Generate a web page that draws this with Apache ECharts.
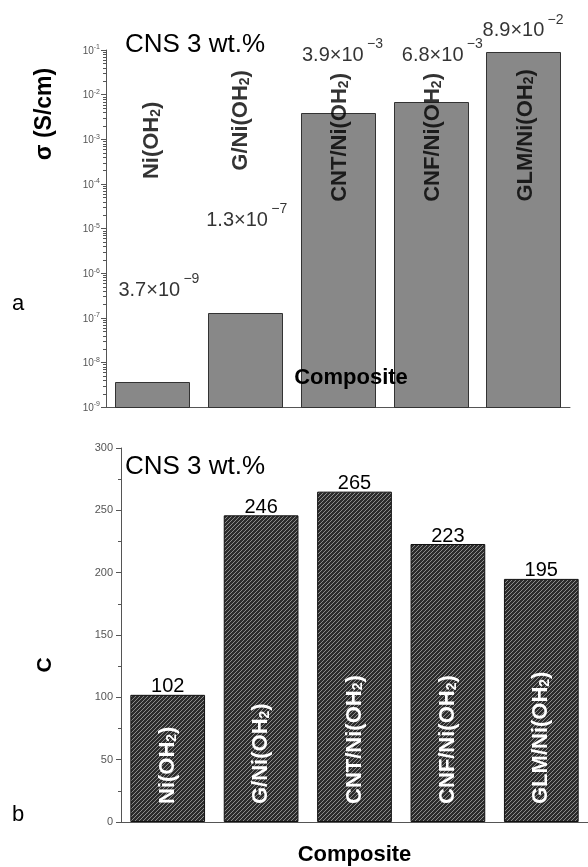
<!DOCTYPE html>
<html><head><meta charset="utf-8">
<script src="https://cdn.jsdelivr.net/npm/echarts@6/dist/echarts.min.js"></script>
<style>html,body{margin:0;padding:0;background:#fff}#c{width:588px;height:867px}</style>
</head><body><div id="c"></div>
<script>
// ---------- data ----------
const categories = ['Ni(OH2)', 'G/Ni(OH2)', 'CNT/Ni(OH2)', 'CNF/Ni(OH2)', 'GLM/Ni(OH2)'];
const conductivity = [3.7e-9, 1.3e-7, 3.9e-3, 6.8e-3, 8.9e-2];   // σ (S/cm)
const capacitance = [102, 246, 265, 223, 195];                  // C
const capTicks = [0, 50, 100, 150, 200, 250, 300];
const sigmaMinExp = -9, sigmaMaxExp = -1;

// ---------- styling config (not data) ----------
const FONT = '"Liberation Sans", Arial, Helvetica, sans-serif';
const sigmaLabelOffsets = [[-34, -81], [-39, -82], [-36, -47], [-29, -36], [-41, -11]];
const supShift = [65, -14];
const topNameCenterY = 1.1e-3;           // anchor on log axis for rotated names
const topNameOffsets = [[-3, 0], [17, -4], [0, 2], [0, 2], [2, 2]];  // rotated frame

function richName(n) { return n.replace('OH2)', 'OH{sub|2})'); }
function sciParts(v) {
  const e = Math.floor(Math.log10(v) + 1e-9);
  const m = (v / Math.pow(10, e)).toFixed(1);
  return [m, e];
}

// hatch pattern for bottom bars
const pc = document.createElement('canvas');
pc.width = 4; pc.height = 4;
const pctx = pc.getContext('2d');
pctx.fillStyle = '#2c2c2c'; pctx.fillRect(0, 0, 4, 4);
pctx.strokeStyle = '#8c8c8c'; pctx.lineWidth = 1;
pctx.beginPath();
pctx.moveTo(-1, 5); pctx.lineTo(5, -1);
pctx.moveTo(-1, 1); pctx.lineTo(1, -1);
pctx.moveTo(3, 5); pctx.lineTo(5, 3);
pctx.stroke();

const minorTickData = [];
for (let e = sigmaMinExp; e < sigmaMaxExp; e++) {
  for (let k = 2; k <= 9; k++) minorTickData.push([0, k * Math.pow(10, e)]);
}

const chart = echarts.init(document.getElementById('c'));
const option = {
  animation: false,
  backgroundColor: '#fff',
  textStyle: { fontFamily: FONT },
  grid: [
    { left: 106, top: 50, width: 464, height: 357 },
    { left: 121, top: 448, width: 467, height: 380 }
  ],
  xAxis: [
    { gridIndex: 0, type: 'category', data: categories,
      axisTick: { show: false }, axisLabel: { show: false },
      axisLine: { lineStyle: { color: '#555', width: 1 } } },
    { gridIndex: 1, type: 'category', data: categories,
      axisTick: { show: false }, axisLabel: { show: false },
      axisLine: { lineStyle: { color: '#555', width: 1 } },
      name: 'Composite', nameLocation: 'middle', nameGap: 22,
      nameTextStyle: { fontSize: 22, fontWeight: 'bold', color: '#000', fontFamily: FONT } }
  ],
  yAxis: [
    { gridIndex: 0, type: 'log', logBase: 10,
      min: Math.pow(10, sigmaMinExp), max: Math.pow(10, sigmaMaxExp), interval: 1, splitNumber: 8,
      splitLine: { show: false },
      axisLine: { show: true, lineStyle: { color: '#555', width: 1 } },
      axisTick: { show: true, length: 5, lineStyle: { color: '#555' } },
      axisLabel: {
        margin: 6,
        formatter: function (v) { const e = Math.round(Math.log10(v)); return '{b|10}{s|' + e + '}'; },
        rich: {
          b: { fontSize: 10, color: '#555', fontFamily: FONT, verticalAlign: 'bottom', lineHeight: 12 },
          s: { fontSize: 7, color: '#555', fontFamily: FONT, verticalAlign: 'top', lineHeight: 8, padding: [0, 0, 7, 0] }
        }
      } },
    { gridIndex: 1, type: 'value', min: capTicks[0], max: capTicks[capTicks.length - 1], interval: 50,
      splitLine: { show: false },
      axisLine: { show: true, lineStyle: { color: '#555', width: 1 } },
      axisTick: { show: true, length: 5, lineStyle: { color: '#555' } },
      minorTick: { show: true, splitNumber: 2, length: 3, lineStyle: { color: '#555' } },
      axisLabel: { fontSize: 11, color: '#555', margin: 8, fontFamily: FONT } }
  ],
  graphic: [
    { type: 'text', x: 45, y: 114, rotation: Math.PI / 2,
      style: { text: 'σ (S/cm)', font: 'bold 23px ' + FONT, fill: '#000', textAlign: 'center', textVerticalAlign: 'middle' } },
    { type: 'text', x: 18, y: 304,
      style: { text: 'a', font: '22px ' + FONT, fill: '#000', textAlign: 'center', textVerticalAlign: 'middle' } },
    { type: 'text', x: 125, y: 45,
      style: { text: 'CNS 3 wt.%', font: '26px ' + FONT, fill: '#000', textAlign: 'left', textVerticalAlign: 'middle' } },
    { type: 'text', x: 351, y: 378, z: 100,
      style: { text: 'Composite', font: 'bold 22px ' + FONT, fill: '#000', textAlign: 'center', textVerticalAlign: 'middle' } },
    { type: 'text', x: 45, y: 665, rotation: Math.PI / 2,
      style: { text: 'C', font: 'bold 21px ' + FONT, fill: '#000', textAlign: 'center', textVerticalAlign: 'middle' } },
    { type: 'text', x: 18, y: 815,
      style: { text: 'b', font: '22px ' + FONT, fill: '#000', textAlign: 'center', textVerticalAlign: 'middle' } },
    { type: 'text', x: 125, y: 467,
      style: { text: 'CNS 3 wt.%', font: '26px ' + FONT, fill: '#000', textAlign: 'left', textVerticalAlign: 'middle' } }
  ],
  series: [
    // top bars: drawn from the axis floor (log axis) with the library's coordinate system
    { type: 'custom', xAxisIndex: 0, yAxisIndex: 0, z: 2,
      data: conductivity.map((v, i) => [i, v]), encode: { x: 0, y: 1 },
      renderItem: function (params, api) {
        const p = api.coord([api.value(0), api.value(1)]);
        const bw = api.size([1, 0])[0] * 0.8;
        const cs = params.coordSys;
        const bottom = cs.y + cs.height;
        return { type: 'rect',
          shape: { x: Math.round(p[0] - bw / 2) + 0.5, y: Math.round(p[1]) + 0.5, width: Math.round(bw), height: Math.round(bottom - p[1]) },
          style: { fill: '#888888', stroke: '#333', lineWidth: 1 } };
      } },
    // value labels (mantissa ×10) above top bars
    { type: 'scatter', xAxisIndex: 0, yAxisIndex: 0, symbolSize: 1, silent: true, z: 4,
      itemStyle: { color: 'rgba(0,0,0,0)' },
      data: conductivity.map((v, i) => ({ value: [i, v], label: { offset: sigmaLabelOffsets[i] } })),
      label: {
        show: true, position: 'top', distance: 0, align: 'left', verticalAlign: 'bottom',
        fontSize: 20, lineHeight: 20, color: '#000', fontFamily: FONT,
        formatter: function (p) { return sciParts(p.value[1])[0] + '×10'; }
      } },
    // exponents (superscript)
    { type: 'scatter', xAxisIndex: 0, yAxisIndex: 0, symbolSize: 1, silent: true, z: 4,
      itemStyle: { color: 'rgba(0,0,0,0)' },
      data: conductivity.map((v, i) => ({ value: [i, v],
        label: { offset: [sigmaLabelOffsets[i][0] + supShift[0], sigmaLabelOffsets[i][1] + supShift[1]] } })),
      label: {
        show: true, position: 'top', distance: 0, align: 'left', verticalAlign: 'bottom',
        fontSize: 14, lineHeight: 14, color: '#000', fontFamily: FONT,
        formatter: function (p) { return '−' + Math.abs(sciParts(p.value[1])[1]); }
      } },
    // rotated category names in top chart
    { type: 'scatter', xAxisIndex: 0, yAxisIndex: 0, symbolSize: 1, silent: true, z: 5,
      itemStyle: { color: 'rgba(0,0,0,0)' },
      data: categories.map((c, i) => ({ value: [i, topNameCenterY], label: { offset: topNameOffsets[i] } })),
      label: {
        show: true, position: 'inside', rotate: 90, align: 'center', verticalAlign: 'middle',
        formatter: function (p) { return richName(categories[p.dataIndex]); },
        fontSize: 22, fontWeight: 'bold', color: '#000',
        rich: {
          sub: { fontSize: 14, fontWeight: 'bold', color: '#000', fontFamily: FONT, verticalAlign: 'bottom', lineHeight: 14, padding: [9, 0, 0, 0] }
        }
      } },
    // minor log ticks
    { type: 'custom', xAxisIndex: 0, yAxisIndex: 0, silent: true,
      data: minorTickData, encode: { x: 0, y: 1 },
      renderItem: function (params, api) {
        const y = Math.round(api.coord([0, api.value(1)])[1]) + 0.5;
        const x0 = params.coordSys.x;
        return { type: 'line', shape: { x1: x0 - 3, y1: y, x2: x0, y2: y }, style: { stroke: '#555', lineWidth: 1 } };
      } },
    { type: 'bar', xAxisIndex: 1, yAxisIndex: 1, barWidth: '80%',
      data: capacitance,
      itemStyle: { color: { image: pc, repeat: 'repeat' }, borderColor: '#111', borderWidth: 1 },
      label: { show: true, position: 'top', distance: -2, fontSize: 20, color: '#000', fontFamily: FONT } },
    { type: 'bar', xAxisIndex: 1, yAxisIndex: 1, barWidth: '80%', barGap: '-100%', silent: true,
      data: capacitance,
      itemStyle: { color: 'rgba(0,0,0,0)' },
      label: {
        show: true, position: 'insideBottom', distance: 18, rotate: 90, align: 'left', verticalAlign: 'middle',
        formatter: function (p) { return richName(categories[p.dataIndex]); },
        fontSize: 22, fontWeight: 'bold', color: '#fff',
        rich: {
          sub: { fontSize: 14, fontWeight: 'bold', color: '#fff', fontFamily: FONT, verticalAlign: 'bottom', lineHeight: 14, padding: [9, 0, 0, 0] }
        }
      } }
  ]
};
chart.setOption(option);
</script>
</body></html>
